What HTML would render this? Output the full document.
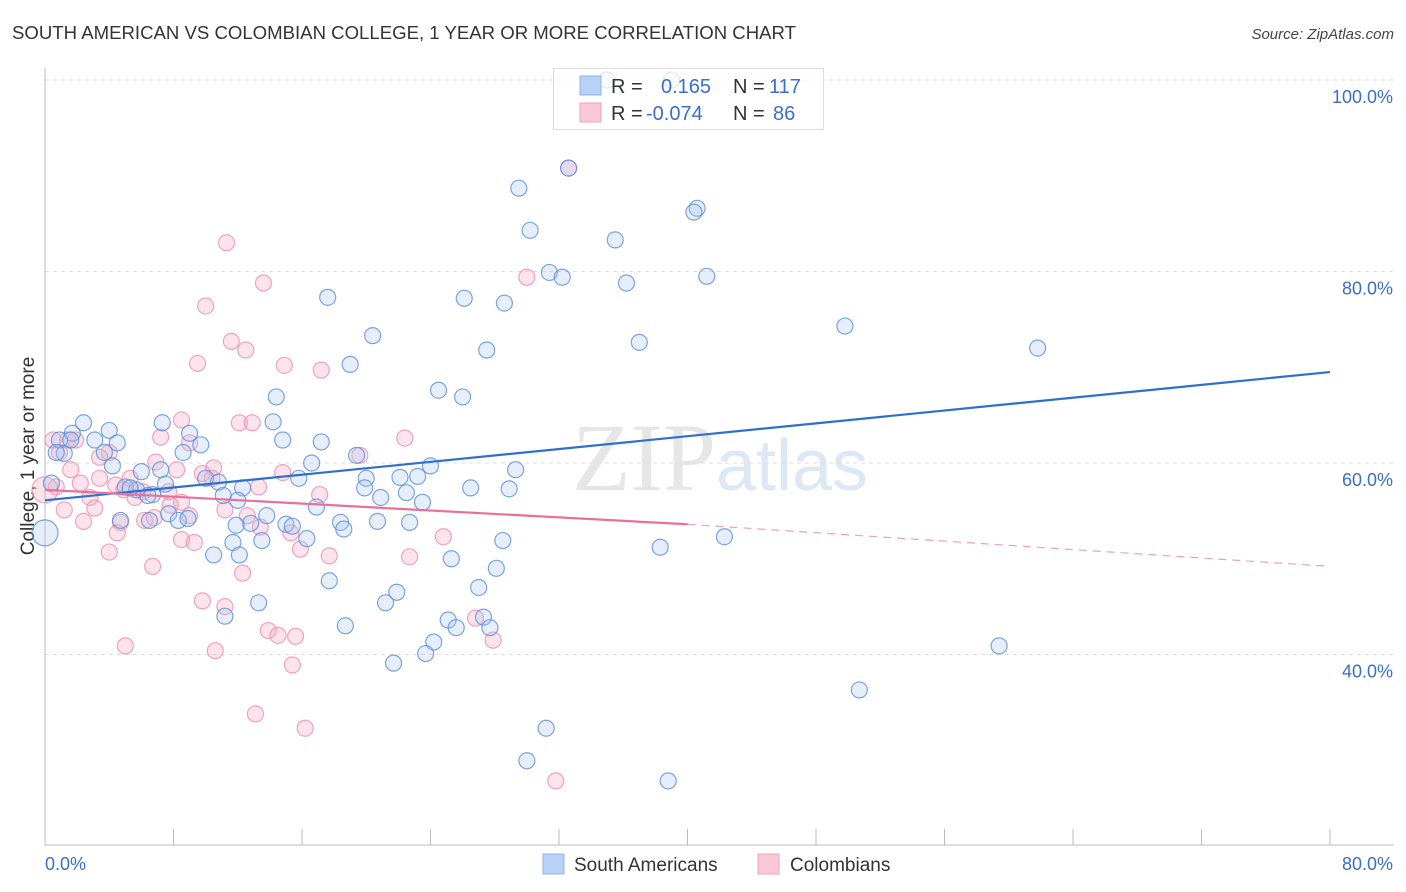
<!DOCTYPE html>
<html><head><meta charset="utf-8">
<style>
body{margin:0;background:#fff;font-family:"Liberation Sans",sans-serif;}
svg{display:block}
</style></head>
<body>
<svg id="chart" width="1406" height="892" xmlns="http://www.w3.org/2000/svg">
<text x="12" y="39" font-size="18" fill="#333" textLength="784" lengthAdjust="spacingAndGlyphs" font-family="Liberation Sans, sans-serif">SOUTH AMERICAN VS COLOMBIAN COLLEGE, 1 YEAR OR MORE CORRELATION CHART</text>
<text x="1394" y="39" font-size="15" fill="#444" font-style="italic" text-anchor="end">Source: ZipAtlas.com</text>
<text x="720" y="490" font-size="96" text-anchor="middle" fill="#e6e6e6" font-family="Liberation Serif, serif">ZIP<tspan fill="#dce8f6" font-family="Liberation Sans, sans-serif" font-size="72">atlas</tspan></text>
<text transform="translate(34,456) rotate(-90)" font-size="19" fill="#333" text-anchor="middle">College, 1 year or more</text>
<g id="grid"></g>
<g id="marks"></g>
<g id="trends"></g>
<g>
<rect x="553.5" y="68.5" width="270" height="61" fill="#fff" fill-opacity="0.75" stroke="#ddd"/>
<rect x="580" y="76" width="21" height="19" fill="#b8d2f5" stroke="#8fb4e6"/>
<rect x="580" y="103" width="21" height="19" fill="#fbc8d6" stroke="#f2a3ba"/>
<text x="611" y="93" font-size="20" fill="#333">R =</text>
<text x="661" y="93" font-size="20" fill="#3a6fc9">0.165</text>
<text x="733" y="93" font-size="20" fill="#333">N =</text>
<text x="769" y="93" font-size="20" fill="#3a6fc9">117</text>
<text x="611" y="120" font-size="20" fill="#333">R =</text>
<text x="646" y="120" font-size="20" fill="#3a6fc9">-0.074</text>
<text x="733" y="120" font-size="20" fill="#333">N =</text>
<text x="773" y="120" font-size="20" fill="#3a6fc9">86</text>
</g>
<g>
<rect x="543" y="854" width="21" height="20" fill="#b8d2f5" stroke="#8fb4e6"/>
<text x="574" y="871" font-size="19" fill="#333">South Americans</text>
<rect x="758" y="854" width="21" height="20" fill="#fbc8d6" stroke="#f2a3ba"/>
<text x="790" y="871" font-size="19" fill="#333">Colombians</text>
</g>
</svg>
<script>
const yTicks=[40,60,80,100];
const yTickLabels=["40.0%","60.0%","80.0%","100.0%"];
const xEndLabels=["0.0%","80.0%"];
const blueX=[32.6,29.5,30.2,35.5,40.6,40.4,31.4,32.2,36.2,41.2,17.6,26.1,28.6,20.4,27.5,37.0,49.8,61.8,19.0,24.5,26.0,14.4,14.2,14.8,17.2,9.7,8.6,7.3,9.0,4.0,4.5,1.7,2.4,3.1,0.9,1.2,3.7,4.2,6.0,7.5,5.7,5.0,6.7,10.0,10.8,11.1,12.3,12.0,15.8,16.6,19.4,20.0,19.9,20.9,22.1,22.5,23.2,23.5,24.0,26.5,28.9,29.3,16.9,13.8,15.0,15.4,12.8,18.4,18.6,20.7,22.7,16.3,11.7,13.5,10.5,12.1,25.3,28.5,28.1,27.0,17.7,21.9,21.2,13.3,11.2,18.7,25.1,25.6,24.2,23.7,27.3,27.7,21.7,31.2,30.0,38.8,38.3,42.3,59.4,50.7,6.5,7.7,8.3,8.9,0.4,0.7,1.6,6.4,5.3,11.9,7.2,4.7,39.0,35.0,0.0];
const blueY=[90.8,88.7,84.3,83.3,86.6,86.2,79.9,79.4,78.8,79.5,77.3,77.2,76.7,73.3,71.8,72.6,74.3,72.0,70.3,67.6,66.9,66.9,64.3,62.4,62.2,61.9,61.1,64.2,63.1,63.4,62.1,63.1,64.2,62.4,62.4,61.0,61.1,59.7,59.1,57.8,57.2,57.5,56.7,58.4,58.0,56.6,57.4,56.1,58.4,60.0,60.8,58.4,57.4,56.4,58.5,56.9,58.6,55.9,59.7,57.4,57.3,59.3,55.4,54.5,53.6,53.4,53.7,53.8,53.1,53.9,53.8,52.1,51.7,51.9,50.4,50.4,50.0,51.9,49.0,47.0,47.7,46.5,45.4,45.4,44.0,43.0,43.6,42.8,41.3,40.1,43.9,42.8,39.1,32.3,28.9,26.8,51.2,52.3,40.9,36.3,54.0,54.7,54.0,54.2,57.9,61.1,62.4,56.6,57.4,53.5,59.3,54.0,100.0,100.0,52.7];
const pinkX=[32.6,11.3,13.6,10.0,11.6,12.5,9.5,14.9,17.2,12.1,12.9,22.4,19.6,8.5,9.0,7.2,4.0,1.4,0.9,0.5,1.9,3.4,1.6,2.2,2.8,1.2,3.4,4.4,5.3,4.9,5.6,6.9,8.2,8.5,7.8,6.2,6.8,4.7,4.5,4.0,6.7,8.5,9.3,10.5,10.4,13.3,12.6,14.8,15.9,17.7,22.7,24.8,30.0,12.3,9.8,11.2,13.9,14.5,15.6,10.6,5.0,15.4,13.1,16.2,26.8,27.9,31.8,2.4,3.1,6.1,7.7,9.0,9.8,11.2,13.4,15.3,17.1,0.7,0.0];
const pinkY=[90.8,83.0,78.8,76.4,72.7,71.8,70.4,70.2,69.7,64.2,64.2,62.6,60.8,64.5,62.1,62.7,61.1,62.4,61.1,62.4,62.4,60.6,59.3,57.9,56.4,55.1,58.4,57.7,58.4,57.2,56.4,60.1,59.3,55.9,55.6,54.0,54.3,53.8,52.7,50.7,49.2,52.0,51.7,59.5,58.4,57.5,54.5,59.0,51.0,50.3,50.2,52.3,79.4,48.5,45.6,45.0,42.5,42.0,41.9,40.4,40.9,38.9,33.8,32.3,43.8,41.5,26.8,53.9,55.3,57.0,57.0,54.5,58.9,55.1,53.3,52.7,56.7,57.5,57.2];
const blueTrend=[[0,56.1],[80,69.5]];
const pinkTrendSolid=[[0,57.2],[40,53.6]];
const pinkTrendDashed=[[40,53.6],[80,49.2]];

const NS="http://www.w3.org/2000/svg";
const X=v=>45+v/80*1285;
const Y=v=>463-(v-60)*9.575;
function mk(tag,attrs,parent){const e=document.createElementNS(NS,tag);for(const k in attrs)e.setAttribute(k,attrs[k]);parent.appendChild(e);return e;}
const grid=document.getElementById('grid');
yTicks.forEach((t,i)=>{
  const l=mk('line',{x1:45,x2:1394,y1:Y(t),y2:Y(t),stroke:'#ddd','stroke-dasharray':'4,4'},grid);
  
  
  const tx=mk('text',{x:1393,y:Y(t)+23,'font-size':18,fill:'#3a6fc9','text-anchor':'end'},grid);
  tx.textContent=yTickLabels[i];
  
  
});
const ax=mk('line',{x1:45,x2:45,y1:68,y2:845,stroke:'#bbb'},grid);


const bx=mk('line',{x1:45,x2:1394,y1:845,y2:845,stroke:'#bbb'},grid);


for(let i=0;i<=10;i++){
  const t=mk('line',{x1:X(i*8),x2:X(i*8),y1:829,y2:845,stroke:'#bbb'},grid);
  
  
}
const xl0=mk('text',{x:45,y:870,'font-size':18,fill:'#3a6fc9'},grid);
xl0.textContent=xEndLabels[0];


const xl1=mk('text',{x:1393,y:870,'font-size':18,fill:'#3a6fc9','text-anchor':'end'},grid);
xl1.textContent=xEndLabels[1];



const marks=document.getElementById('marks');
function pts(xs,ys,fill,stroke,name){
  xs.forEach((x,i)=>{
    let r=8;
    if(x===0) r=13;
    const c=mk('circle',{cx:X(x),cy:Y(ys[i]),r:r,fill:fill,'fill-opacity':0.3,stroke:stroke,'stroke-width':1.2,'stroke-opacity':0.8},marks);
    
    
  });
}
pts(pinkX,pinkY,'#f7a6bf','#ec8fab','colombian-point');
pts(blueX,blueY,'#a9c8f0','#5b8fd9','south-american-point');

const tr=document.getElementById('trends');
function line(seg,color,dash,name,w){
  const l=mk('line',{x1:X(seg[0][0]),y1:Y(seg[0][1]),x2:X(seg[1][0]),y2:Y(seg[1][1]),stroke:color,'stroke-width':w},tr);
  if(dash) l.setAttribute('stroke-dasharray',dash);
  
  
}
line(blueTrend,'#2f6fd0',null,'south-american-trendline',2.2);
line(pinkTrendSolid,'#e8709a',null,'colombian-trendline',2.2);
line(pinkTrendDashed,'#eea0b8','8,6','colombian-trendline-extension',1.2);
</script>
</body></html>
